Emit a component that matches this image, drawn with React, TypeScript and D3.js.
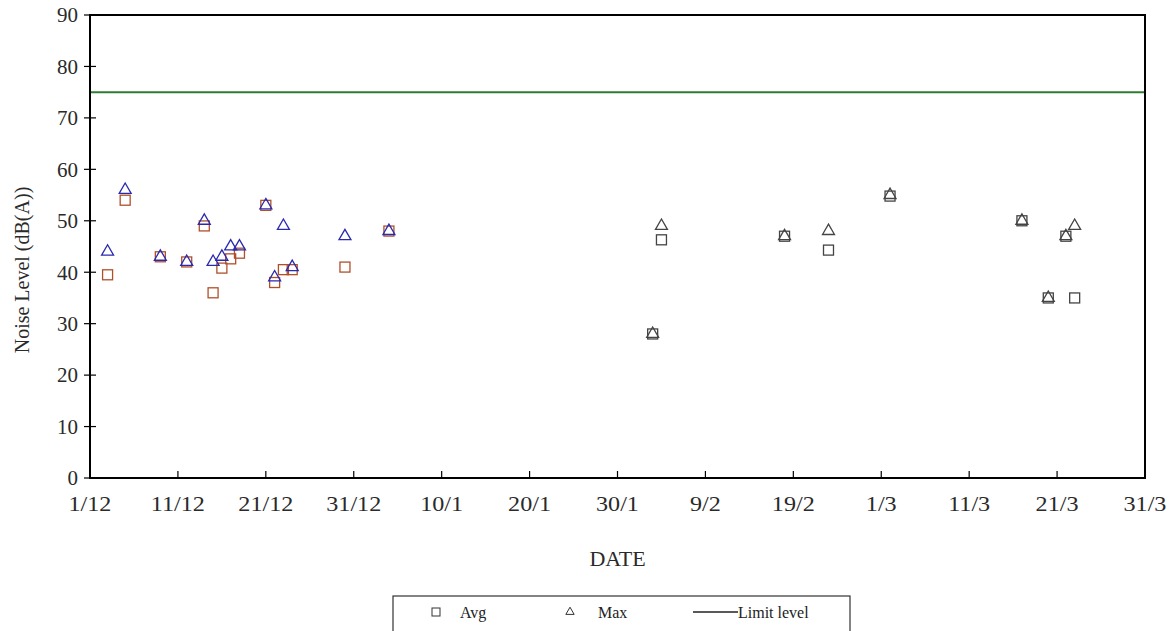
import React from "react";
import * as d3 from "d3";

const dates = ["3/12","5/12","9/12","12/12","14/12","15/12","16/12","17/12","18/12","21/12","22/12","23/12","24/12","30/12","4/1","3/2","4/2","18/2","23/2","2/3","17/3","20/3","22/3","23/3"];
const avgValues = [39.5,54,43,42,49,36,40.8,42.6,43.7,53,38,40.5,40.5,41,48,28,46.3,47,44.3,54.8,50,35,47,35];
const maxValues = [44,56,43,42,50,42,43,45,45,53,39,49,41,47,48,28,49,47,48,55,50,35,47,49];
const limitLevel = 75;
const xTickLabels = ["1/12","11/12","21/12","31/12","10/1","20/1","30/1","9/2","19/2","1/3","11/3","21/3","31/3"];
const yTicks = [0,10,20,30,40,50,60,70,80,90];

const parseDM = (s: string) => {
  const [d, m] = s.split("/").map(Number);
  return new Date(m === 12 ? 2006 : 2007, m - 1, d);
};

const W = 1175, H = 631;
const L = 90, R = 1145, T = 15, B = 478;
const FONT = "'Liberation Serif', 'Times New Roman', serif";

export default function App() {
  const x = d3.scaleTime().domain([parseDM("1/12"), parseDM("31/3")]).range([L, R]);
  const y = d3.scaleLinear().domain([0, 90]).range([B, T]);
  const colorCut = parseDM("10/1");
  const tri = d3.symbol().type(d3.symbolTriangle).size(62)() as string;
  const pts = dates.map((s, i) => ({ date: parseDM(s), avg: avgValues[i], max: maxValues[i] }));
  return (
    <svg width={W} height={H} style={{ position: "absolute", left: 0, top: 0, background: "#fff" }} fontFamily={FONT}>
      <rect x={0} y={0} width={W} height={H} fill="#fff" />
      <line x1={L} x2={R} y1={y(limitLevel)} y2={y(limitLevel)} stroke="#2e7d32" strokeWidth={2} />
      {yTicks.map(t => (
        <g key={t}>
          <line x1={L - 6} x2={L + 6} y1={y(t)} y2={y(t)} stroke="#000" strokeWidth={1.2} />
          <text x={L - 12} y={y(t)} dy="0.35em" textAnchor="end" fontSize={21} fill="#2a2a2a">{t}</text>
        </g>
      ))}
      {xTickLabels.map(lab => {
        const xx = x(parseDM(lab));
        return (
          <g key={lab}>
            <line x1={xx} x2={xx} y1={B} y2={B - 7} stroke="#000" strokeWidth={1.2} />
            <text x={xx} y={B + 26} dy="0.35em" textAnchor="middle" fontSize={21} fill="#2a2a2a"
              transform={`translate(${xx},0) scale(1.15,1) translate(${-xx},0)`}>{lab}</text>
          </g>
        );
      })}
      <rect x={L} y={T} width={R - L} height={B - T} fill="none" stroke="#000" strokeWidth={2} />
      {pts.map((p, i) => (
        <rect key={"a" + i} x={x(p.date) - 5} y={y(p.avg) - 5} width={10} height={10} fill="none"
          stroke={p.date < colorCut ? "#b0502a" : "#444"} strokeWidth={1.3} />
      ))}
      {pts.map((p, i) => (
        <path key={"m" + i} d={tri} transform={`translate(${x(p.date)},${y(p.max)})`} fill="none"
          stroke={p.date < colorCut ? "#2a2ab0" : "#444"} strokeWidth={1.3} />
      ))}
      <text x={(L + R) / 2} y={558} dy="0.35em" textAnchor="middle" fontSize={22} fill="#2a2a2a">DATE</text>
      <text transform={`translate(22,270) rotate(-90)`} dy="0.35em" textAnchor="middle" fontSize={20} fill="#2a2a2a">Noise Level (dB(A))</text>
      <rect x={393} y={596} width={457} height={40} fill="#fff" stroke="#333" strokeWidth={1.2} />
      <rect x={432} y={608} width={8} height={8} fill="none" stroke="#333" strokeWidth={1} />
      <text x={460} y={612} dy="0.35em" fontSize={16} fill="#222">Avg</text>
      <path d={d3.symbol().type(d3.symbolTriangle).size(30)() as string} transform="translate(570,612)" fill="none" stroke="#333" strokeWidth={1} />
      <text x={598} y={612} dy="0.35em" fontSize={16} fill="#222">Max</text>
      <line x1={693} x2={738} y1={612} y2={612} stroke="#222" strokeWidth={1.5} />
      <text x={738} y={612} dy="0.35em" fontSize={16} fill="#222">Limit level</text>
    </svg>
  );
}
